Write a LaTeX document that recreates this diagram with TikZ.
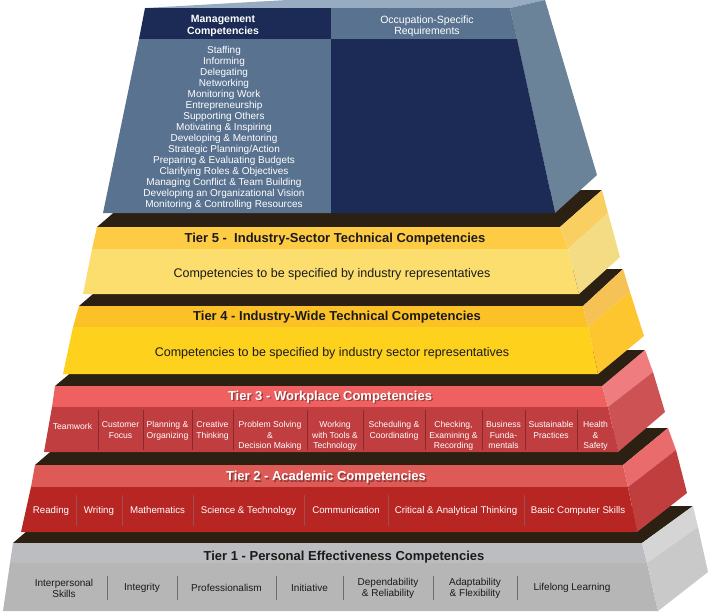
\documentclass[tikz,border=0pt]{standalone}
\usepackage{fontspec}
\setmainfont{Liberation Sans}
\definecolor{navy}{HTML}{1C2B56}
\definecolor{steel}{HTML}{587290}
\definecolor{mgtop}{HTML}{97ACC1}
\definecolor{mgside}{HTML}{6B8398}
\definecolor{brownstrip}{HTML}{2B2012}
\definecolor{tfivehead}{HTML}{FECB45}
\definecolor{tfivebody}{HTML}{FCDE6E}
\definecolor{tfivesidea}{HTML}{F9CF62}
\definecolor{tfivesideb}{HTML}{F3DC84}
\definecolor{tfourhead}{HTML}{FCC126}
\definecolor{tfourbody}{HTML}{FED11C}
\definecolor{tfoursidea}{HTML}{F7C255}
\definecolor{tfoursideb}{HTML}{FDC62E}
\definecolor{tthreehead}{HTML}{EF6060}
\definecolor{tthreebody}{HTML}{C03D40}
\definecolor{tthreesidea}{HTML}{EF7C7E}
\definecolor{tthreesideb}{HTML}{CD5254}
\definecolor{ttwohead}{HTML}{DD5A56}
\definecolor{ttwobody}{HTML}{B72622}
\definecolor{ttwosidea}{HTML}{E96B6C}
\definecolor{ttwosideb}{HTML}{C13E3F}
\definecolor{tonehead}{HTML}{BCBDC0}
\definecolor{tonebody}{HTML}{B5B6B5}
\definecolor{tonesidea}{HTML}{D5D5D5}
\definecolor{tonesideb}{HTML}{C8C9C8}
\definecolor{inktext}{HTML}{1A1A1A}
\tikzset{
  tiertitle/.style={anchor=base, font=\fontsize{13}{15}\selectfont\bfseries, text=inktext},
  whitetitle/.style={tiertitle, text=white},
  titleshadow/.style={tiertitle, text=black, opacity=0.35},
  bodytext/.style={anchor=base, font=\fontsize{12.5}{14}\selectfont, text=inktext},
  listitem/.style={anchor=base, font=\fontsize{10}{11}\selectfont, text=white},
  headtext/.style={anchor=north, align=center, execute at begin node=\strut, font=\fontsize{10.5}{11.5}\selectfont, text=white},
  cellthree/.style={anchor=north, align=center, inner sep=0pt, execute at begin node=\strut, font=\fontsize{8.6}{10.5}\selectfont, text=white},
  celltwo/.style={anchor=base, font=\fontsize{9.7}{11}\selectfont, text=white},
  cellone/.style={align=center, inner sep=0pt, font=\fontsize{10}{11}\selectfont, text=inktext}
}
\begin{document}
\begin{tikzpicture}[x=1pt,y=-1pt]
  \useasboundingbox (0,0) rectangle (708,611);
  % Tier 1
  \fill[brownstrip] (13,543) -- (56,506) -- (693,506) -- (642,543) -- cycle;
  \fill[tonehead] (13,543) -- (642,543) -- (647,563) -- (10,563) -- cycle;
  \fill[tonebody] (10,563) -- (647,563) -- (658,611) -- (3,611) -- cycle;
  \fill[tonesidea] (642,543) -- (693,506) -- (698,527) -- (647,563) -- cycle;
  \fill[tonesideb] (647,563) -- (698,527) -- (708,572) -- (658,611) -- cycle;
  \node[tiertitle] (tonetitle) at (344,560.5) {Tier 1 - Personal Effectiveness Competencies};
  \foreach \x in {107,177,276,343,433,517}
    \draw[color=gray!85!black, line width=0.8pt] (\x,576) -- (\x,600);
  \foreach \x/\t [count=\i] in {64/{Interpersonal\\Skills}, 142/Integrity, 226.5/Professionalism,
      309.5/Initiative, 388/{Dependability\\\& Reliability}, 475/{Adaptability\\\& Flexibility}, 572/{Lifelong Learning}}
    \node[cellone] (one\i) at (\x,588) {\t};
  % Tier 2
  \fill[brownstrip] (35,465) -- (78,428) -- (668,428) -- (623,465) -- cycle;
  \fill[ttwohead] (35,465) -- (623,465) -- (628,487) -- (31,487) -- cycle;
  \fill[ttwobody] (31,487) -- (628,487) -- (637,532) -- (21,532) -- cycle;
  \fill[ttwosidea] (623,465) -- (668,428) -- (676,450) -- (628,487) -- cycle;
  \fill[ttwosideb] (628,487) -- (676,450) -- (687,493) -- (637,532) -- cycle;
  \node[titleshadow] at (327.5,482) {Tier 2 - Academic Competencies};
  \node[whitetitle] (ttwotitle) at (326,480.5) {Tier 2 - Academic Competencies};
  \foreach \x in {76,122,193,304,388,524}
    \draw[color=ttwobody!55!gray, line width=0.8pt] (\x,495) -- (\x,526);
  \foreach \x/\t [count=\i] in {51/Reading, 99/Writing, 157.5/Mathematics, 248.5/{Science \& Technology},
      346/Communication, 456/{Critical \& Analytical Thinking}, 578/{Basic Computer Skills}}
    \node[celltwo] (two\i) at (\x,513.5) {\t};
  % Tier 3
  \fill[brownstrip] (55,386) -- (98,350) -- (645,350) -- (602,387) -- cycle;
  \fill[tthreehead] (55,386) -- (602,386) -- (608,407) -- (52,407) -- cycle;
  \fill[tthreebody] (52,407) -- (608,407) -- (618,452) -- (44,452) -- cycle;
  \fill[tthreesidea] (602,386) -- (645,350) -- (653,372) -- (608,407) -- cycle;
  \fill[tthreesideb] (608,407) -- (653,372) -- (665,412) -- (618,452) -- cycle;
  \node[titleshadow] at (331.5,401.5) {Tier 3 - Workplace Competencies};
  \node[whitetitle] (tthreetitle) at (330,400) {Tier 3 - Workplace Competencies};
  \foreach \x in {98,143,192,233,307,363,425,482,525,577}
    \draw[color=tthreebody!70!black, line width=0.8pt] (\x,410) -- (\x,450);
  \foreach \x/\t [count=\i] in {72.5/Teamwork, 120.5/{Customer\\Focus}, 167.5/{Planning \&\\Organizing},
      212.5/{Creative\\Thinking}, 270/{Problem Solving\\\&\\Decision Making}, 335/{Working\\with Tools \&\\Technology},
      394/{Scheduling \&\\Coordinating}, 453.5/{Checking,\\Examining \&\\Recording}, 503.5/{Business\\Funda-\\mentals},
      551/{Sustainable\\Practices}, 595.5/{Health\\\&\\Safety}}
    \node[cellthree] (three\i) at (\x,421.5) {\t};
  % Tier 4
  \fill[brownstrip] (79,306) -- (122,269) -- (623,269) -- (583,306) -- cycle;
  \fill[tfourhead] (79,306) -- (583,306) -- (588,327) -- (73,327) -- cycle;
  \fill[tfourbody] (73,327) -- (588,327) -- (598,374) -- (63,374) -- cycle;
  \fill[tfoursidea] (583,306) -- (623,269) -- (630,292) -- (588,327) -- cycle;
  \fill[tfoursideb] (588,327) -- (630,292) -- (644,336) -- (598,374) -- cycle;
  \node[tiertitle] (tfourtitle) at (337,320.5) {Tier 4 - Industry-Wide Technical Competencies};
  \node[bodytext] (tfourbodytext) at (332,356.5) {Competencies to be specified by industry sector representatives};
  % Tier 5
  \fill[brownstrip] (97,227) -- (140,190) -- (602,190) -- (560,227) -- cycle;
  \fill[tfivehead] (97,227) -- (560,227) -- (568,249) -- (92,249) -- cycle;
  \fill[tfivebody] (92,249) -- (568,249) -- (579,294) -- (83,294) -- cycle;
  \fill[tfivesidea] (560,227) -- (602,190) -- (608,213) -- (568,249) -- cycle;
  \fill[tfivesideb] (568,249) -- (608,213) -- (620,257) -- (579,294) -- cycle;
  \node[tiertitle] (tfivetitle) at (335,242.5) {Tier 5 -\ \ Industry-Sector Technical Competencies};
  \node[bodytext] (tfivebodytext) at (332,277.5) {Competencies to be specified by industry representatives};
  % Management tier
  \fill[mgtop] (145,8) -- (287,0) -- (545,0) -- (510,8) -- cycle;
  \fill[mgside] (510,8) -- (545,0) -- (597,175) -- (555,213) -- cycle;
  \fill[navy] (145,8) -- (331,8) -- (331,39) -- (139,39) -- cycle;
  \fill[steel] (331,8) -- (510,8) -- (517,39) -- (331,39) -- cycle;
  \fill[steel] (139,39) -- (331,39) -- (331,213) -- (103,213) -- cycle;
  \fill[navy] (331,39) -- (517,39) -- (555,213) -- (331,213) -- cycle;
  \node[headtext, font=\fontsize{10.5}{11.5}\selectfont\bfseries] (mgmthead) at (223,12) {Management\\Competencies};
  \node[headtext] (occhead) at (427,12) {Occupation-Specific\\Requirements};
  \foreach \t [count=\i from 0] in {Staffing, Informing, Delegating, Networking, Monitoring Work,
      Entrepreneurship, Supporting Others, Motivating \& Inspiring, Developing \& Mentoring,
      Strategic Planning/Action, Preparing \& Evaluating Budgets, Clarifying Roles \& Objectives,
      Managing Conflict \& Team Building, Developing an Organizational Vision,
      Monitoring \& Controlling Resources}
    \node[listitem] (mgmt\i) at (224,53+11*\i) {\t};
\end{tikzpicture}
\end{document}
